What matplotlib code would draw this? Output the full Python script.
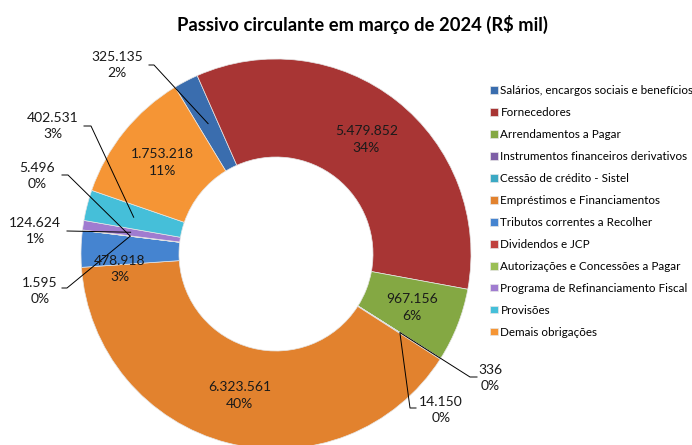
import matplotlib.pyplot as plt
import numpy as np

plt.rcParams['font.family'] = ['Lato', 'DejaVu Sans']

categorias = ['Salários, encargos sociais e benefícios', 'Fornecedores',
              'Arrendamentos a Pagar', 'Instrumentos financeiros derivativos',
              'Cessão de crédito - Sistel', 'Empréstimos e Financiamentos',
              'Tributos correntes a Recolher', 'Dividendos e JCP',
              'Autorizações e Concessões a Pagar', 'Programa de Refinanciamento Fiscal',
              'Provisões', 'Demais obrigações']
valores = [325135, 5479852, 967156, 336, 14150, 6323561,
           478918, 1595, 5496, 124624, 402531, 1753218]
percentuais = ['2%', '34%', '6%', '0%', '0%', '40%',
               '3%', '0%', '0%', '1%', '3%', '11%']
cores = ['#3A6DAE', '#A83534', '#84A843', '#7E5FA6', '#3CA9C4', '#E2822E',
         '#4584D0', '#C0413E', '#9BBF55', '#A07CD0', '#45BFD9', '#F59535']

W, H = 692, 445
def px(x, y):
    return x, H - y

fig = plt.figure(figsize=(W / 100, H / 100), dpi=100)
ax = fig.add_axes([0, 0, 1, 1])

cx, cy = px(276, 254)
R, largura = 195, 98
wedges, _ = ax.pie(valores, colors=cores, startangle=121.2, counterclock=False,
                   radius=R, center=(cx, cy),
                   wedgeprops=dict(width=largura, edgecolor='#e6e6e6', linewidth=0.5))
ax.set_xlim(0, W)
ax.set_ylim(0, H)
ax.set_aspect('equal')
ax.axis('off')

def rotulo(i):
    return f'{valores[i]:,}'.replace(',', '.') + '\n' + percentuais[i]

def ponto_medio(i, r=147):
    w = wedges[i]
    t = np.deg2rad((w.theta1 + w.theta2) / 2)
    return cx + r * np.cos(t), cy + r * np.sin(t)

fonte = dict(fontsize=10, ha='center', va='center', linespacing=1.45, color='#1a1a1a')

# rótulos dentro do anel
for i in [1, 2, 5, 11]:
    x, y = ponto_medio(i, 146)
    ax.text(x, y, rotulo(i), **fonte)
ax.text(*px(120, 269), rotulo(6), **fonte)

# rótulos fora, com linha de chamada
fora = {
    0: ((117, 65), [(149, 65), (154, 65)]),
    10: ((53, 126), [(84, 126), (91, 126)]),
    8: ((37, 176), [(62, 175), (68, 175)]),
    9: ((35, 231), [(67, 231)]),
    7: ((40, 291), [(62, 288), (67, 288)]),
    3: ((490, 378), [(477, 377), (470, 377)]),
    4: ((441, 410), [(416, 408), (410, 408)]),
}
for i, (pos, linha) in fora.items():
    ax.text(*px(*pos), rotulo(i), **fonte)
    pts = [px(*p) for p in linha] + [ponto_medio(i)]
    xs, ys = zip(*pts)
    ax.plot(xs, ys, color='black', lw=0.7)

fig.text(362 / W, 1 - 24 / H, 'Passivo circulante em março de 2024 (R$ mil)',
         ha='center', va='center', fontsize=13.2, fontweight='bold')

ax.legend(wedges, categorias, loc='upper left',
          bbox_to_anchor=(490 / W, 1 - 85 / H), bbox_transform=fig.transFigure,
          frameon=False, fontsize=8.4, labelspacing=0.94, handlelength=0.65,
          handleheight=0.65, handletextpad=0.25, borderpad=0, borderaxespad=0)

fig.savefig('out.png', dpi=100)
